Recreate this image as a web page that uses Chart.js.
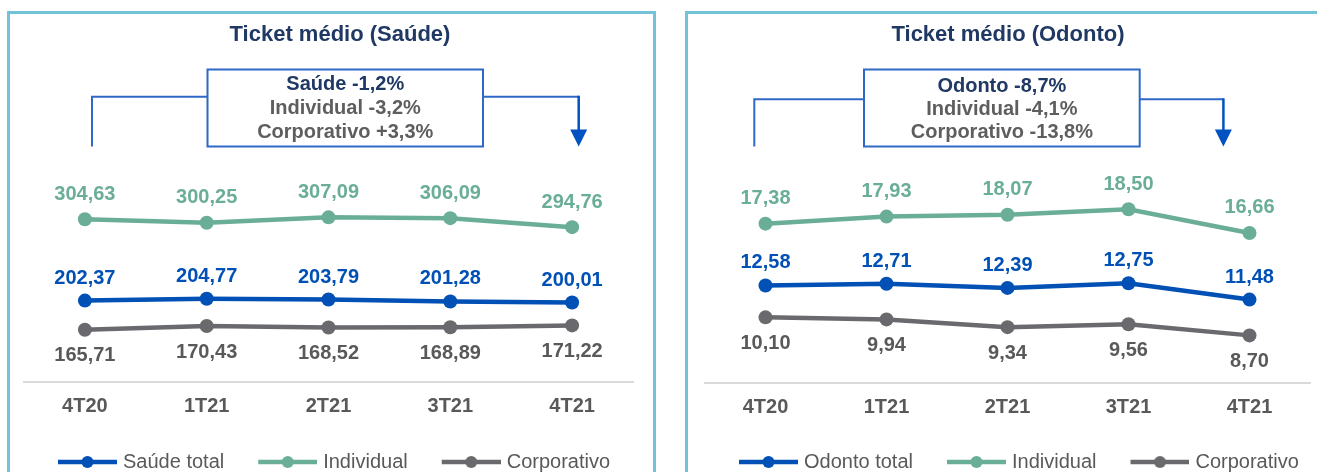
<!DOCTYPE html>
<html>
<head>
<meta charset="utf-8">
<script src="https://cdn.jsdelivr.net/npm/chart.js@4"></script>
<style>
  html, body { margin: 0; padding: 0; background: #fff; overflow: hidden; width: 1317px; height: 472px; }
  .panel { position: absolute; top: 11px; height: 480px; border: 3px solid #72C2D8; box-sizing: border-box; }
  #panel-saude { left: 7px; width: 649px; }
  #panel-odonto { left: 685px; width: 700px; }
  canvas { position: absolute; top: 0; }
  #chart-saude { left: 0; }
  #chart-odonto { left: 660px; }
</style>
</head>
<body>
<div class="panel" id="panel-saude"></div>
<div class="panel" id="panel-odonto"></div>
<canvas id="chart-saude" width="660" height="482"></canvas>
<canvas id="chart-odonto" width="657" height="482"></canvas>
<script>
const quarters = ["4T20", "1T21", "2T21", "3T21", "4T21"];

const saudeTotal = [202.37, 204.77, 203.79, 201.28, 200.01];
const saudeIndividual = [304.63, 300.25, 307.09, 306.09, 294.76];
const saudeCorporativo = [165.71, 170.43, 168.52, 168.89, 171.22];

const odontoTotal = [12.58, 12.71, 12.39, 12.75, 11.48];
const odontoIndividual = [17.38, 17.93, 18.07, 18.50, 16.66];
const odontoCorporativo = [10.10, 9.94, 9.34, 9.56, 8.70];

const saudeSummary = ["Saúde -1,2%", "Individual -3,2%", "Corporativo +3,3%"];
const odontoSummary = ["Odonto -8,7%", "Individual -4,1%", "Corporativo -13,8%"];

const FONT = "'Liberation Sans', Arial, sans-serif";
const BLUE = "#0050B5";
const GREEN = "#6AAE97";
const GRAY = "#6A6A6E";
const NAVY = "#1F3864";
const TEXT_GRAY = "#595959";
const FRAME_BLUE = "#2F68C6";
const ARROW_BLUE = "#0052C0";

const fmt = (v) => v.toFixed(2).replace(".", ",");

// legend swatch: blank lead-in, line segment with a dot in the middle
const LEG_LEAD = 32, LEG_LINE = 59, LEG_BOX = LEG_LEAD + 55;
function legendIcon(color) {
  const half = LEG_LEAD + LEG_LINE - LEG_BOX / 2;
  const c = document.createElement("canvas");
  c.width = Math.ceil(half * 2);
  c.height = 14;
  const g = c.getContext("2d");
  const x0 = half - (LEG_BOX / 2 - LEG_LEAD);
  g.strokeStyle = color;
  g.lineWidth = 4.5;
  g.beginPath();
  g.moveTo(x0, 7);
  g.lineTo(x0 + LEG_LINE, 7);
  g.stroke();
  g.fillStyle = color;
  g.beginPath();
  g.arc(x0 + LEG_LINE / 2, 7, 6, 0, Math.PI * 2);
  g.fill();
  return c;
}
const legendIcons = [legendIcon(BLUE), legendIcon(GREEN), legendIcon(GRAY)];

// numbers above / below every point
const valueLabels = {
  id: "valueLabels",
  afterDatasetsDraw(chart) {
    const ctx = chart.ctx;
    ctx.save();
    ctx.font = `bold 20px ${FONT}`;
    ctx.textAlign = "center";
    ctx.textBaseline = "middle";
    chart.data.datasets.forEach((ds, i) => {
      chart.getDatasetMeta(i).data.forEach((pt, j) => {
        ctx.fillStyle = ds.labelColor;
        ctx.fillText(fmt(ds.data[j]), pt.x, pt.y + ds.labelOffset);
      });
    });
    ctx.restore();
  }
};

// title, variation box and bracket arrow
function summaryPlugin(o) {
  return {
    id: "summary",
    afterDraw(chart) {
      const ctx = chart.ctx;
      ctx.save();
      ctx.textAlign = "center";
      ctx.textBaseline = "middle";
      ctx.font = `bold 22px ${FONT}`;
      ctx.fillStyle = NAVY;
      ctx.fillText(o.title, o.titleX, o.titleY);

      ctx.strokeStyle = FRAME_BLUE;
      ctx.lineWidth = 2;
      ctx.beginPath();
      ctx.moveTo(o.boxLeft, o.bracketY);
      ctx.lineTo(o.bracketLeft, o.bracketY);
      ctx.lineTo(o.bracketLeft, o.boxBottom);
      ctx.moveTo(o.boxRight, o.bracketY);
      ctx.lineTo(o.bracketRight, o.bracketY);
      ctx.stroke();

      ctx.strokeStyle = ARROW_BLUE;
      ctx.lineWidth = 2.5;
      ctx.beginPath();
      ctx.moveTo(o.bracketRight, o.bracketY - 1);
      ctx.lineTo(o.bracketRight, o.boxBottom - 14);
      ctx.stroke();
      ctx.fillStyle = ARROW_BLUE;
      ctx.beginPath();
      ctx.moveTo(o.bracketRight - 8.5, o.boxBottom - 17);
      ctx.lineTo(o.bracketRight + 8.5, o.boxBottom - 17);
      ctx.lineTo(o.bracketRight, o.boxBottom);
      ctx.closePath();
      ctx.fill();

      const w = o.boxRight - o.boxLeft, h = o.boxBottom - o.boxTop;
      ctx.fillStyle = "#fff";
      ctx.fillRect(o.boxLeft, o.boxTop, w, h);
      ctx.strokeStyle = FRAME_BLUE;
      ctx.lineWidth = 2;
      ctx.strokeRect(o.boxLeft, o.boxTop, w, h);

      ctx.font = `bold 20px ${FONT}`;
      o.lines.forEach((t, i) => {
        ctx.fillStyle = i === 0 ? NAVY : "#5E5E5E";
        ctx.fillText(t, o.boxLeft + w / 2, o.lineY[i]);
      });
      ctx.restore();
    }
  };
}

function makeChart(id, p) {
  return new Chart(document.getElementById(id), {
    type: "line",
    data: {
      labels: quarters,
      datasets: [
        { label: p.totalName, data: p.total, borderColor: BLUE, backgroundColor: BLUE, labelColor: BLUE, labelOffset: -22.5 },
        { label: "Individual", data: p.individual, borderColor: GREEN, backgroundColor: GREEN, labelColor: GREEN, labelOffset: -25 },
        { label: "Corporativo", data: p.corporativo, borderColor: GRAY, backgroundColor: GRAY, labelColor: TEXT_GRAY, labelOffset: 26 }
      ]
    },
    options: {
      responsive: false,
      animation: false,
      layout: { padding: { left: p.padLeft, right: p.padRight, top: p.padTop, bottom: 0 } },
      elements: {
        line: { borderWidth: 4.5, tension: 0 },
        point: { radius: 7, borderWidth: 0, hoverRadius: 7 }
      },
      scales: {
        x: {
          offset: true,
          grid: { display: false, drawTicks: false },
          border: { display: true, color: "#D9D9D9", width: 2 },
          ticks: { color: TEXT_GRAY, padding: 12, font: { family: FONT, size: 20, weight: "bold" } },
          afterFit: (scale) => { scale.height = p.axisHeight; }
        },
        y: { display: false, min: p.yMin, max: p.yMax }
      },
      plugins: {
        legend: {
          position: "bottom",
          align: "start",
          labels: {
            usePointStyle: true,
            pointStyleWidth: LEG_BOX,
            padding: 2,
            color: TEXT_GRAY,
            font: { family: FONT, size: 20 },
            generateLabels: (chart) =>
              Chart.defaults.plugins.legend.labels.generateLabels(chart)
                .map((item, i) => ({ ...item, pointStyle: legendIcons[i] }))
          }
        },
        tooltip: { enabled: false }
      }
    },
    plugins: [valueLabels, summaryPlugin(p.summary)]
  });
}

makeChart("chart-saude", {
  totalName: "Saúde total",
  total: saudeTotal, individual: saudeIndividual, corporativo: saudeCorporativo,
  yMin: 100, yMax: 400,
  padLeft: 24, padRight: 27, padTop: 143.5, axisHeight: 68,
  summary: {
    title: "Ticket médio (Saúde)", titleX: 340, titleY: 35,
    lines: saudeSummary, lineY: [84.5, 108.5, 132.5],
    boxLeft: 207.5, boxRight: 483, boxTop: 69.5, boxBottom: 146.5,
    bracketY: 96.7, bracketLeft: 92, bracketRight: 578.7
  }
});

makeChart("chart-odonto", {
  totalName: "Odonto total",
  total: odontoTotal, individual: odontoIndividual, corporativo: odontoCorporativo,
  yMin: 5, yMax: 25,
  padLeft: 45, padRight: 3, padTop: 125.6, axisHeight: 67,
  summary: {
    title: "Ticket médio (Odonto)", titleX: 348, titleY: 35,
    lines: odontoSummary, lineY: [86, 109, 132],
    boxLeft: 204, boxRight: 479.7, boxTop: 69.5, boxBottom: 146.5,
    bracketY: 99.3, bracketLeft: 94.3, bracketRight: 563.4
  }
});
</script>
</body>
</html>
